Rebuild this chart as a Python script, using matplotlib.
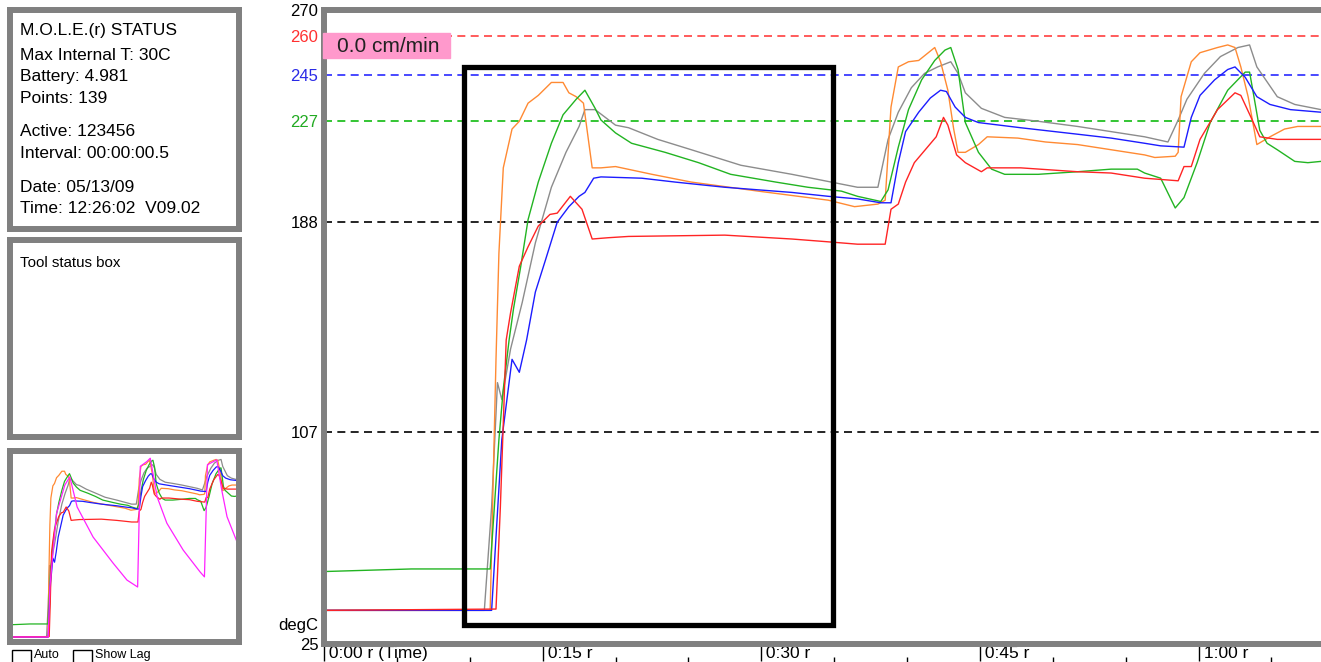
import matplotlib.pyplot as plt
from matplotlib.patches import Rectangle
from matplotlib.transforms import blended_transform_factory

plt.rcParams['font.family'] = ['Liberation Sans', 'DejaVu Sans']

# time in minutes, temperature in degC
orange_t = [0, 11.4, 11.8, 12.0, 12.3, 12.9, 13.4, 14.0, 14.7, 15.6, 16.4, 16.8, 17.3, 17.8, 18.4, 19.0,
            20.0, 22.5, 25.2, 29.8, 34.6, 36.4, 38.0, 38.5, 38.9, 39.4, 40.1, 40.8, 41.9, 42.3, 42.8,
            43.2, 43.5, 44.0, 44.9, 45.5, 47.6, 49.5, 51.7, 54.0, 56.3, 57.0, 58.4, 58.6, 58.8, 59.5,
            60.1, 61.3, 62.0, 62.5, 62.9, 63.4, 64.0, 64.9, 65.9, 66.8, 68.4]
orange_T = [38, 38, 135, 176, 209, 224, 227, 234, 237, 242, 242, 238, 236.5, 234, 209, 209,
            209.5, 206.5, 203.5, 200, 196.5, 194, 195, 196.5, 232.5, 248, 250, 250.5, 255.5, 250, 239,
            224, 215, 215, 218, 221, 220.5, 219, 218, 216, 214, 213, 213.5, 215, 236.5, 250,
            253.5, 255.5, 256.5, 255.5, 248, 236.5, 218, 221, 224, 225, 225]

green_t = [0, 6.0, 11.4, 12.0, 12.3, 12.7, 13.0, 13.5, 14.0, 14.7, 15.6, 16.4, 17.3, 17.9, 18.6, 19.0,
           20.0, 21.1, 23.4, 25.7, 27.9, 31.0, 33.2, 35.5, 36.6, 38.2, 38.7, 39.4, 40.1, 41.0, 41.9,
           42.6, 43.0, 43.5, 44.0, 44.9, 45.8, 46.7, 49.0, 51.7, 54.0, 55.8, 56.3, 57.4, 58.4, 59.0,
           59.9, 60.8, 62.0, 63.2, 63.5, 63.8, 64.2, 64.7, 65.4, 66.6, 67.5, 68.4]
green_T = [53, 54, 54, 104, 123.5, 142.5, 154.5, 171, 189, 203.5, 218.5, 229.5, 235.5, 239, 232, 227.5,
           222.5, 218.5, 215, 211, 206.5, 203.5, 201.5, 200, 198, 196, 200.5, 217, 231.5, 243, 250.5,
           254.5, 255.5, 247, 226.5, 215, 208.5, 206.5, 206.5, 207.5, 208.5, 208.5, 207, 205, 193.5, 197.5,
           211, 226.5, 239, 246, 246, 236.5, 223.5, 218.5, 216, 211.5, 211, 211.5]

blue_t = [0, 11.5, 12.2, 12.9, 13.4, 13.9, 14.5, 15.2, 16.0, 16.8, 17.5, 17.9, 18.5, 19.0, 21.8, 24.1,
          27.5, 32.1, 34.6, 36.6, 38.2, 38.9, 39.4, 39.9, 40.8, 41.6, 42.3, 42.7, 43.3, 44.0, 44.9,
          47.8, 51.7, 54.0, 56.3, 57.4, 59.0, 59.5, 60.1, 61.1, 62.0, 62.5, 63.2, 64.0, 64.9, 66.3, 68.4]
blue_T = [38, 38, 104, 135, 130, 142.5, 161, 173.5, 188, 194, 198, 199.5, 205, 205.5, 205, 203.5,
          201.5, 199.5, 198, 197, 195.5, 195.5, 211, 223, 230.5, 236, 239, 238.5, 232.5, 228.5, 226.5,
          224.5, 222, 220.5, 218.5, 217.5, 217, 228.5, 237, 243, 247, 248, 244, 236.5, 233.5, 231.5, 230.5]

red_t = [0, 11.8, 12.1, 12.5, 12.8, 13.4, 14.0, 14.7, 15.5, 16.0, 16.9, 17.7, 18.4, 19.5, 20.9, 27.5,
         32.1, 34.4, 36.6, 38.5, 38.9, 39.4, 39.9, 40.5, 41.4, 42.0, 42.5, 42.8, 43.4, 44.0, 45.1,
         45.5, 47.8, 51.7, 54.0, 56.3, 58.6, 59.0, 59.5, 60.1, 61.3, 62.5, 62.9, 63.6, 64.2, 65.4, 68.4]
red_T = [38, 38.5, 78, 142.5, 153, 171, 178.5, 186.5, 191, 191.5, 198, 193, 181.5, 182, 182.5, 183,
         181.5, 180.5, 179.5, 179.5, 193, 195, 203.5, 211, 217, 221, 228.5, 225.5, 214, 211, 207.5,
         209, 209, 207.5, 207, 205, 204, 209.5, 209.5, 220, 231.5, 238, 237, 228.5, 221, 220, 220]

gray_t = [0, 11.0, 11.5, 11.9, 12.2, 12.8, 13.6, 14.5, 15.6, 16.6, 17.5, 17.9, 18.6, 20.0, 20.9, 22.9,
          25.2, 28.6, 32.1, 34.8, 36.6, 38.0, 38.7, 39.4, 40.3, 41.2, 42.1, 43.0, 43.5, 44.0, 45.1,
          46.7, 49.0, 51.7, 54.0, 56.3, 57.9, 58.6, 59.2, 60.4, 61.5, 62.7, 63.5, 64.0, 65.4, 66.6, 68.4]
gray_T = [38, 38, 78, 126, 119.5, 139, 157, 180, 201.5, 215, 225, 231.5, 231.5, 225.5, 224.5, 220,
          216, 210, 206.5, 203.5, 201.5, 201.5, 220, 230.5, 240, 245.5, 248, 250, 245.5, 238, 232,
          228.5, 227, 225, 223, 221, 219, 227.5, 235.5, 245.5, 252, 255.5, 256.5, 248, 236.5, 233.5, 231.5]

# only shown in the small overview
magenta_t = [0, 11.5, 12.0, 14.0, 16.5, 18.0, 20.2, 25.0, 31.0, 35.2, 38.4, 39.2, 41.2, 42.2, 44.3,
             47.2, 52.1, 57.2, 58.5, 59.4, 62.2, 63.7, 65.3, 68.4]
magenta_T = [38, 38, 100, 190, 225, 235, 198, 161, 129, 108, 99.5, 248, 254, 258, 210,
             178, 145, 118, 112, 250, 256, 219, 186, 154]

RED, BLUE, GREEN, ORANGE, GRAY = '#ff2424', '#1c1cff', '#22b422', '#ff8a33', '#8c8c8c'
series = [(gray_t, gray_T, GRAY), (orange_t, orange_T, ORANGE), (green_t, green_T, GREEN),
          (blue_t, blue_T, BLUE), (red_t, red_T, RED)]

set_points = [260, 245, 227, 188, 107]
set_colors = ['#ff4040', '#2a2aff', '#11bb11', 'black', 'black']
ytick_vals = [270, 260, 245, 227, 188, 107, 25]
ytick_cols = ['black', '#ff3030', '#2a2ae6', '#22aa22', 'black', 'black', 'black']
xtick_vals = [0, 15, 30, 45, 60]
xtick_labels = ['0:00 r (Time)', '0:15 r', '0:30 r', '0:45 r', '1:00 r']
minor_vals = [5, 10, 20, 25, 35, 40, 50, 55, 65]

status_lines = ['M.O.L.E.(r) STATUS', 'Max Internal T: 30C', 'Battery: 4.981', 'Points: 139',
                'Active: 123456', 'Interval: 00:00:00.5', 'Date: 05/13/09', 'Time: 12:26:02  V09.02']
status_base = [35, 60, 81, 103, 136, 158, 192, 213]

W, H = 1321, 662
fig = plt.figure(figsize=(W / 100, H / 100), dpi=100)
BORDER = '#808080'


def frac(x0, y0, x1, y1):
    return [x0 / W, 1 - y1 / H, (x1 - x0) / W, (y1 - y0) / H]


def framed(rect):
    a = fig.add_axes(rect)
    a.set_xticks([])
    a.set_yticks([])
    for s in a.spines.values():
        s.set_color(BORDER)
        s.set_linewidth(4.3)
    return a


# left status boxes
framed(frac(10, 10, 239, 229))
framed(frac(10, 240, 239, 437))
mini = framed(frac(10, 451, 239, 642))

for line, b in zip(status_lines, status_base):
    fig.text(20 / W, 1 - b / H, line, fontsize=12.5, va='baseline')
fig.text(20 / W, 1 - 267 / H, 'Tool status box', fontsize=10.8, va='baseline')

for x0, label in [(12, 'Auto'), (73, 'Show Lag')]:
    fig.add_artist(Rectangle((x0 / W, 1 - 668 / H), 19 / W, 18 / H, transform=fig.transFigure,
                             fill=False, ec='black', lw=1))
    fig.text((x0 + 22) / W, 1 - 658 / H, label, fontsize=9, va='baseline')

for t, T, c in series:
    mini.plot(t, T, color=c, lw=0.9)
mini.plot(magenta_t, magenta_T, color='#ff22ff', lw=0.9)
mini.set_xlim(0, 68.9)
mini.set_ylim(31.8, 266.9)

# main chart
ax = fig.add_axes(frac(324, 10, 1321, 644))
ax.set_xlim(0, 68.4)
ax.set_ylim(25, 270)
for side in ['left', 'top', 'bottom']:
    ax.spines[side].set_color(BORDER)
    ax.spines[side].set_linewidth(4.3)
    ax.spines[side].set_zorder(5)
ax.spines['right'].set_visible(False)

for v, c in zip(set_points, set_colors):
    ax.axhline(v, color=c, lw=1.2, dashes=(4.8, 3.2), zorder=1)

for t, T, c in series:
    ax.plot(t, T, color=c, lw=1.0, zorder=2)

ax.add_patch(Rectangle((9.6, 32.2), 34.9 - 9.6, 248.0 - 32.2, fill=False, ec='black', lw=3.8, zorder=3))

ax.set_yticks(ytick_vals)
ax.set_yticklabels([str(v) for v in ytick_vals])
ax.tick_params(axis='y', length=0, pad=4, labelsize=12)
for lbl, c in zip(ax.get_yticklabels(), ytick_cols):
    lbl.set_color(c)
ax.text(-0.006, 32, 'degC', transform=blended_transform_factory(ax.transAxes, ax.transData),
        ha='right', va='center', fontsize=12)

ax.set_xticks(xtick_vals)
ax.set_xticklabels([' ' + s for s in xtick_labels], ha='left')
ax.tick_params(axis='x', direction='out', length=12.5, width=1, color='black', pad=-11, labelsize=12.5)
ax.vlines(minor_vals, -0.03, -0.0205, transform=ax.get_xaxis_transform(), clip_on=False,
          color='black', lw=1)

# speed label
fig.add_artist(Rectangle((323 / W, 1 - 58 / H), 127 / W, 25 / H, transform=fig.transFigure,
                         color='#ff99cc', zorder=10))
fig.text(388 / W, 1 - 46 / H, '0.0 cm/min', fontsize=15, ha='center', va='center',
         color='#222222', zorder=11)

fig.savefig('out.png', dpi=100)
